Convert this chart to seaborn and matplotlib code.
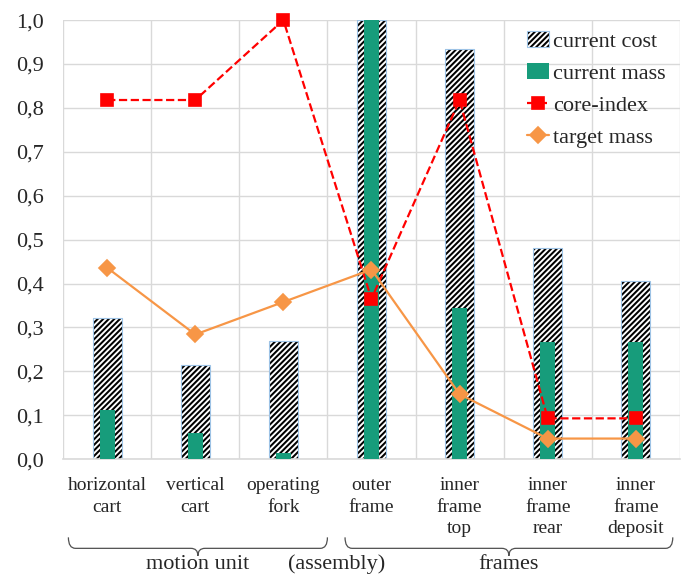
import numpy as np
import pandas as pd
import seaborn as sns
import matplotlib.pyplot as plt
from matplotlib.path import Path
from matplotlib.patches import PathPatch
from matplotlib.ticker import FuncFormatter, MultipleLocator
from matplotlib.colors import to_rgba
import matplotlib.transforms as mtransforms

# values
parts = ["horizontal\ncart", "vertical\ncart", "operating\nfork", "outer\nframe",
         "inner\nframe\ntop", "inner\nframe\nrear", "inner\nframe\ndeposit"]
current_cost = [0.321, 0.214, 0.269, 1.0, 0.934, 0.481, 0.405]
current_mass = [0.112, 0.059, 0.013, 1.0, 0.344, 0.266, 0.266]
core_index = [0.818, 0.818, 1.0, 0.365, 0.818, 0.093, 0.093]
target_mass = [0.436, 0.284, 0.358, 0.432, 0.148, 0.047, 0.047]

groups = ["motion unit", "frames"]
group_spans = [(-0.44, 2.5), (2.7, 6.42)]
middle_label = "(assembly)"

df = pd.DataFrame({"part": parts, "cost": current_cost, "mass": current_mass,
                   "core": core_index, "target": target_mass})

sns.set_style("white")
plt.rcParams["font.family"] = ["Liberation Serif", "DejaVu Serif"]
plt.rcParams["hatch.linewidth"] = 1.45

fig = plt.figure(figsize=(6.86, 5.74), dpi=100)
ax = fig.add_axes([0.092, 0.2, 0.899, 0.765])

grid_col = "#D9D9D9"

sns.barplot(data=df, x="part", y="cost", width=0.33, color="white",
            edgecolor="#9DC3E6", linewidth=0.8, hatch="//////",
            label="current cost", ax=ax, zorder=2)
for p in ax.patches:
    if hasattr(p, "set_hatchcolor"):
        p.set_hatchcolor("black")
    else:
        p._hatch_color = to_rgba("black")

sns.barplot(data=df, x="part", y="mass", width=0.17, color="#179C7B",
            linewidth=0, label="current mass", ax=ax, zorder=3, saturation=1)

sns.pointplot(data=df, x="part", y="core", color="#FF0000", marker="s",
              markersize=8, linestyle="--", linewidth=1.6, errorbar=None,
              label="core-index", ax=ax, zorder=4)
sns.pointplot(data=df, x="part", y="target", color="#F79646", marker="D",
              markersize=8, linestyle="-", linewidth=1.6, errorbar=None,
              label="target mass", ax=ax, zorder=5)
for ln in ax.lines:
    ln.set_clip_on(False)

ax.set_ylim(0, 1.0)
ax.set_xlim(-0.5, 6.5)
ax.yaxis.set_major_locator(MultipleLocator(0.1))
ax.yaxis.set_major_formatter(FuncFormatter(lambda v, pos: f"{v:.1f}".replace(".", ",")))
ax.set_xticks(np.arange(-0.5, 7, 1), minor=True)
ax.grid(axis="y", which="major", color=grid_col, linewidth=1.0, zorder=0)
ax.grid(axis="x", which="minor", color=grid_col, linewidth=1.0, zorder=0)
ax.set_axisbelow(True)
for s in ["top", "right", "left"]:
    ax.spines[s].set_visible(False)
ax.spines["bottom"].set_color(grid_col)
ax.spines["bottom"].set_linewidth(1.2)
ax.tick_params(axis="y", length=0, pad=14, labelsize=16)
ax.tick_params(axis="x", which="both", length=0, pad=13, labelsize=14)
for t in ax.get_xticklabels():
    t.set_linespacing(1.35)
ax.set_xlabel("")
ax.set_ylabel("")

# legend in the reference order
handles, labels = ax.get_legend_handles_labels()
order = ["current cost", "current mass", "core-index", "target mass"]
hmap = dict(zip(labels, handles))
ax.legend([hmap[k] for k in order], order, loc="upper right", frameon=False,
          fontsize=16, bbox_to_anchor=(1.009, 1.02), handlelength=1.0,
          handletextpad=0.15, labelspacing=0.52)

# curly braces under the category labels
trans = mtransforms.blended_transform_factory(ax.transData, ax.transAxes)
def brace(x0, x1, ytop=-0.178, yline=-0.203, ytip=-0.22):
    xm = (x0 + x1) / 2
    c = 0.08
    verts = [(x0, ytop), (x0, yline), (x0 + c, yline),
             (xm - c, yline), (xm, yline), (xm, ytip),
             (xm, ytip), (xm, yline), (xm + c, yline),
             (x1 - c, yline), (x1, yline), (x1, ytop)]
    codes = [Path.MOVETO, Path.CURVE3, Path.CURVE3,
             Path.LINETO, Path.CURVE3, Path.CURVE3,
             Path.MOVETO, Path.CURVE3, Path.CURVE3,
             Path.LINETO, Path.CURVE3, Path.CURVE3]
    ax.add_patch(PathPatch(Path(verts, codes), transform=trans, fill=False,
                           edgecolor="#505050", linewidth=0.9, clip_on=False))

for name, (x0, x1) in zip(groups, group_spans):
    brace(x0, x1)
    ax.text((x0 + x1) / 2, -0.24, name, transform=trans, ha="center",
            va="center", fontsize=16)
ax.text(2.6, -0.24, middle_label, transform=trans, ha="center", va="center",
        fontsize=16)

fig.savefig("out.png", dpi=100)
